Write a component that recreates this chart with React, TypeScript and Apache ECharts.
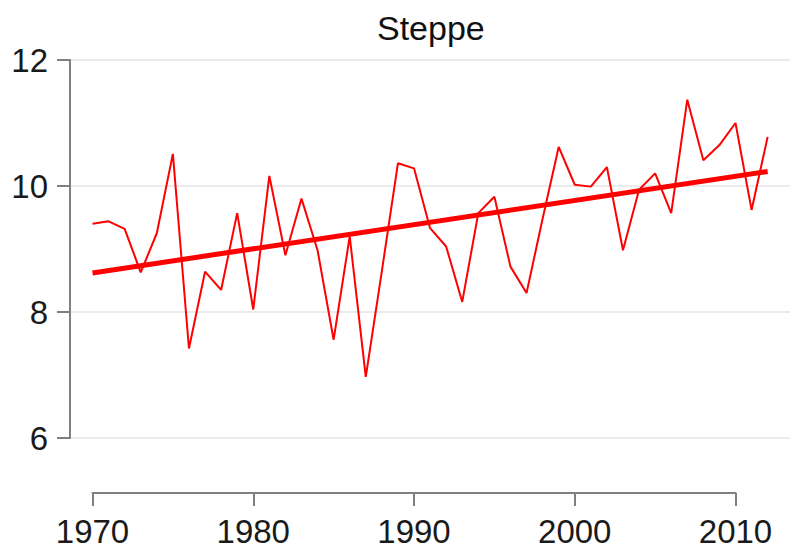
import React, { useEffect, useRef } from "react";
import * as echarts from "echarts";

const titleText = "Steppe";
const years = [
  1970, 1971, 1972, 1973, 1974, 1975, 1976, 1977, 1978, 1979,
  1980, 1981, 1982, 1983, 1984, 1985, 1986, 1987, 1988, 1989,
  1990, 1991, 1992, 1993, 1994, 1995, 1996, 1997, 1998, 1999,
  2000, 2001, 2002, 2003, 2004, 2005, 2006, 2007, 2008, 2009,
  2010, 2011, 2012,
];
const values = [
  9.4, 9.44, 9.32, 8.63, 9.25, 10.51, 7.42, 8.64, 8.35, 9.57,
  8.04, 10.16, 8.9, 9.8, 8.98, 7.56, 9.2, 6.97, 8.65, 10.36,
  10.28, 9.33, 9.04, 8.16, 9.57, 9.83, 8.72, 8.3, 9.48, 10.62,
  10.02, 9.99, 10.3, 8.98, 9.94, 10.2, 9.57, 11.37, 10.41, 10.65,
  11.0, 9.62, 10.78,
];
const trendYears = [1970, 2012];
const trendValues = [8.62, 10.23];
const yTicks = [6, 8, 10, 12];
const xTicks = [1970, 1980, 1990, 2000, 2010];

const FONT = "'Liberation Sans', Arial, Helvetica, sans-serif";

export default function App() {
  const ref = useRef<HTMLDivElement>(null);
  useEffect(() => {
    if (!ref.current) return;
    const chart = echarts.init(ref.current, undefined, { renderer: "svg" });
    const axisColor = "#808080";
    chart.setOption({
      animation: false,
      backgroundColor: "#ffffff",
      title: {
        text: titleText,
        left: 372,
        top: 6,
        textStyle: { fontFamily: FONT, fontSize: 34, fontWeight: "normal", color: "#111" },
      },
      grid: [
        { left: 70, right: 0, top: 60, bottom: 113 },
        { left: 92.5, right: 54.5, top: 445, bottom: 58 },
      ],
      xAxis: [
        {
          gridIndex: 0,
          type: "value",
          min: 1968.6,
          max: 2013.39,
          show: false,
        },
        {
          gridIndex: 1,
          type: "value",
          min: xTicks[0],
          max: xTicks[xTicks.length - 1],
          interval: 10,
          position: "bottom",
          axisLine: { show: true, lineStyle: { color: axisColor, width: 2 } },
          axisTick: { show: true, length: 13, lineStyle: { color: axisColor, width: 2 } },
          axisLabel: {
            margin: 22,
            fontFamily: FONT,
            fontSize: 33,
            color: "#1a1a1a",
            formatter: (v: number) => (xTicks.includes(v) ? String(v) : ""),
          },
          splitLine: { show: false },
        },
      ],
      yAxis: [
        {
          gridIndex: 0,
          type: "value",
          min: yTicks[0],
          max: yTicks[yTicks.length - 1],
          interval: 2,
          axisLine: { show: true, lineStyle: { color: axisColor, width: 2 } },
          axisTick: { show: true, length: 13, lineStyle: { color: axisColor, width: 2 } },
          axisLabel: {
            margin: 22,
            fontFamily: FONT,
            fontSize: 33,
            color: "#1a1a1a",
          },
          splitLine: { show: true, lineStyle: { color: "#ebebeb", width: 2 } },
        },
        {
          gridIndex: 1,
          type: "value",
          show: false,
          min: 0,
          max: 1,
        },
      ],
      series: [
        {
          type: "line",
          xAxisIndex: 0,
          yAxisIndex: 0,
          data: years.map((y, i) => [y, values[i]]),
          showSymbol: false,
          lineStyle: { color: "#ff0000", width: 2 },
          z: 3,
        },
        {
          type: "line",
          xAxisIndex: 0,
          yAxisIndex: 0,
          data: trendYears.map((y, i) => [y, trendValues[i]]),
          showSymbol: false,
          lineStyle: { color: "#ff0000", width: 5 },
          z: 4,
        },
        {
          type: "line",
          xAxisIndex: 1,
          yAxisIndex: 1,
          data: [],
          showSymbol: false,
        },
      ],
    });
    return () => chart.dispose();
  }, []);
  return (
    <div
      ref={ref}
      style={{ position: "fixed", left: 0, top: 0, width: 790, height: 551 }}
    />
  );
}
